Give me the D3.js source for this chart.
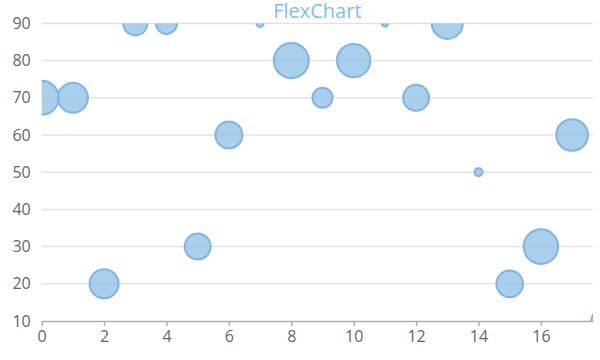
<!DOCTYPE html>
<html>
<head>
<meta charset="utf-8">
<script src="https://cdn.jsdelivr.net/npm/d3@7"></script>
<style>
  html, body { margin: 0; padding: 0; background: #fff; }
  svg { display: block; font-family: "Open Sans", "Noto Sans", sans-serif; }
</style>
</head>
<body>
<svg id="chart" width="600" height="360"></svg>
<script>
const title = "FlexChart";
const xValues = [0, 1, 2, 3, 4, 5, 6, 7, 8, 9, 10, 11, 12, 13, 14, 15, 16, 17, 18];
const yValues = [70, 70, 20, 90, 90, 30, 60, 90, 80, 70, 80, 90, 70, 90, 50, 20, 30, 60, 10];
const sizes   = [17, 15, 14.5, 12, 10.5, 13, 13.5, 3.5, 17.5, 10, 16.7, 3, 13, 15.5, 4, 13.3, 17.3, 15.8, 12];
const xTicks = [0, 2, 4, 6, 8, 10, 12, 14, 16];
const yTicks = [10, 20, 30, 40, 50, 60, 70, 80, 90];

const W = 600, H = 360;
const margin = { left: 41.7, right: 7, top: 23.4, bottom: 39 };
const svg = d3.select("#chart");

const x = d3.scaleLinear().domain([0, 17.67]).range([margin.left, W - margin.right]);
const y = d3.scaleLinear().domain([10, 90]).range([H - margin.bottom, margin.top]);
const r = d3.scaleLinear().domain([0, 17.5]).range([0, 17.5]);

// gridlines
svg.append("g")
  .selectAll("line")
  .data(yTicks.filter(d => d !== 10))
  .join("line")
  .attr("x1", x.range()[0]).attr("x2", x.range()[1])
  .attr("y1", d => y(d)).attr("y2", d => y(d))
  .attr("stroke", "#e2e2e2").attr("stroke-width", 1.5);

// y axis labels
const yAxis = d3.axisLeft(y).tickValues(yTicks).tickSize(0).tickPadding(11);
const gy = svg.append("g").attr("transform", `translate(${margin.left},0)`).call(yAxis);
gy.select(".domain").remove();
gy.selectAll("text").attr("font-size", 16).attr("fill", "#666").attr("font-family", "Open Sans, sans-serif");

// clip
svg.append("clipPath").attr("id", "plotclip")
  .append("rect")
  .attr("x", x.range()[0]).attr("y", y.range()[1])
  .attr("width", x.range()[1] - x.range()[0])
  .attr("height", y.range()[0] - y.range()[1]);

const data = xValues.map((xv, i) => ({ x: xv, y: yValues[i], s: sizes[i] }));
svg.append("g").attr("clip-path", "url(#plotclip)")
  .selectAll("circle")
  .data(data)
  .join("circle")
  .attr("cx", d => x(d.x))
  .attr("cy", d => y(d.y))
  .attr("r", d => r(d.s))
  .attr("fill", "rgba(136,189,230,0.72)")
  .attr("stroke", "#7fb4e3")
  .attr("stroke-width", 2);

// x axis
const xAxis = d3.axisBottom(x).tickValues(xTicks).tickSize(5).tickPadding(5).tickSizeOuter(0);
const gx = svg.append("g").attr("transform", `translate(0,${y(10)})`).call(xAxis);
gx.select(".domain").attr("stroke", "#b0b0b0").attr("stroke-width", 1.5);
gx.selectAll(".tick line").attr("stroke", "#b0b0b0").attr("stroke-width", 1.5);
gx.selectAll("text").attr("font-size", 16).attr("fill", "#666").attr("font-family", "Open Sans, sans-serif");

// title
svg.append("text")
  .attr("x", (x.range()[0] + x.range()[1]) / 2)
  .attr("y", 18)
  .attr("text-anchor", "middle")
  .attr("font-size", 20)
  .attr("fill", "#80bdf8")
  .text(title);
</script>
</body>
</html>
